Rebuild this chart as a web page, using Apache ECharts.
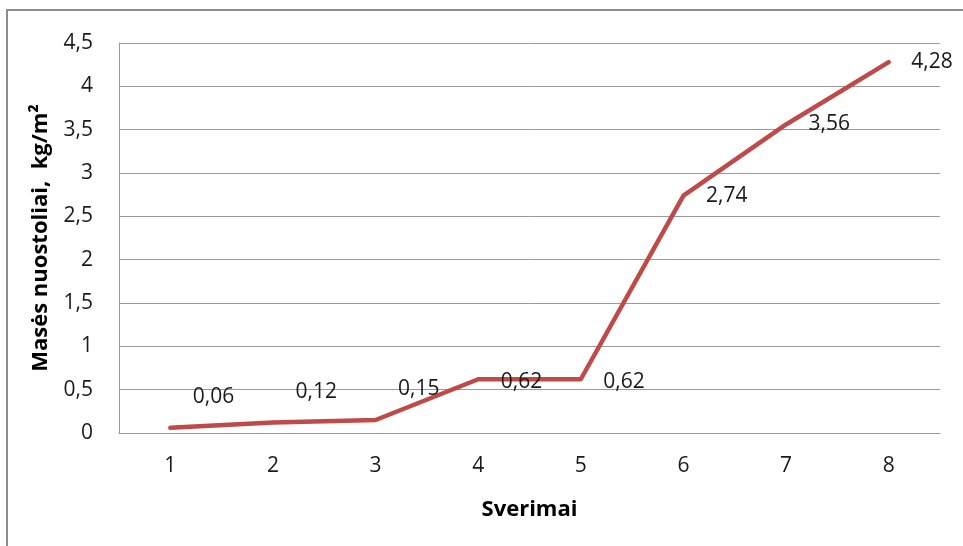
<!DOCTYPE html>
<html>
<head>
<meta charset="utf-8">
<style>
  html, body { margin: 0; padding: 0; background: #fff; }
  #chart { width: 963px; height: 546px; }
</style>
<script src="https://cdn.jsdelivr.net/npm/echarts@6/dist/echarts.min.js"></script>
</head>
<body>
<div id="chart"></div>
<script>
// Mass loss per weighing
const categories = ['1', '2', '3', '4', '5', '6', '7', '8'];
const massLoss = [0.06, 0.12, 0.15, 0.62, 0.62, 2.74, 3.56, 4.28];
const yTicks = { min: 0, max: 4.5, interval: 0.5 };

const xTitle = 'Sverimai';
const yTitle = 'Masės nuostoliai,  kg/m²';

const FONT = '"Open Sans", "Noto Sans", sans-serif';
const toComma = v => String(v).replace('.', ',');

// the first three labels sit higher, clear of the line
function labelShift(i) {
  if (i < 3) return [0, -31];
  if (i === 3 || i === 4) return [0, 3];
  return [0, 0];
}

const chart = echarts.init(document.getElementById('chart'), null, { renderer: 'canvas' });

chart.setOption({
  animation: false,
  backgroundColor: '#ffffff',
  graphic: [{
    type: 'rect',
    silent: true,
    shape: { x: 7, y: 10, width: 1100, height: 1000 },
    style: { fill: 'none', stroke: '#8c8c8c', lineWidth: 2 }
  }],
  grid: { left: 119, top: 43, right: 23, bottom: 113 },
  xAxis: {
    type: 'category',
    data: categories,
    boundaryGap: true,
    name: xTitle,
    nameLocation: 'middle',
    nameGap: 66,
    nameTextStyle: { fontFamily: FONT, fontSize: 22, fontWeight: 'bold', color: '#000' },
    axisLine: { lineStyle: { color: '#9a9a9a', width: 1 } },
    axisTick: { show: false },
    axisLabel: { fontFamily: FONT, fontSize: 21, color: '#1a1a1a', margin: 23 }
  },
  yAxis: {
    type: 'value',
    min: yTicks.min,
    max: yTicks.max,
    interval: yTicks.interval,
    name: yTitle,
    nameLocation: 'middle',
    nameGap: 67,
    nameTextStyle: { fontFamily: FONT, fontSize: 22, fontWeight: 'bold', color: '#000' },
    axisLine: { show: true, lineStyle: { color: '#9a9a9a', width: 1 } },
    axisTick: { show: false },
    splitLine: { lineStyle: { color: '#9a9a9a', width: 1 } },
    axisLabel: { fontFamily: FONT, fontSize: 21, color: '#1a1a1a', margin: 26, formatter: v => toComma(v) }
  },
  series: [{
    type: 'line',
    data: massLoss.map((v, i) => ({
      value: v,
      label: { offset: labelShift(i) }
    })),
    symbol: 'circle',
    symbolSize: 1,
    itemStyle: { color: '#BE4B48' },
    lineStyle: { color: '#BE4B48', width: 4.5, cap: 'round', join: 'round' },
    label: {
      show: true,
      position: 'right',
      distance: 22,
      fontFamily: FONT,
      fontSize: 21,
      color: '#1a1a1a',
      formatter: p => toComma(p.value)
    }
  }]
});
</script>
</body>
</html>
